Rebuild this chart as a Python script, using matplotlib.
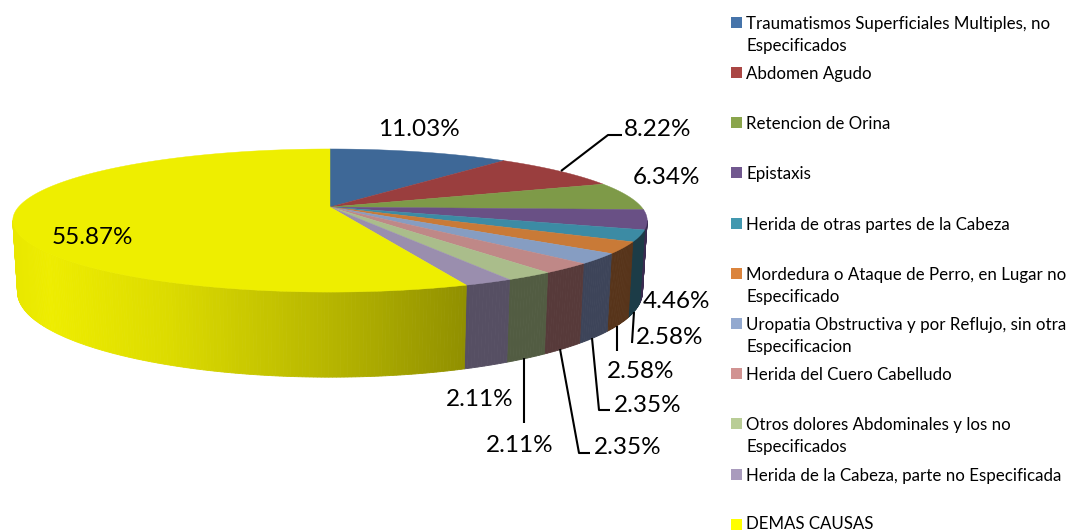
import numpy as np
import matplotlib
matplotlib.use("Agg")
import matplotlib.pyplot as plt
from matplotlib.patches import Polygon, Rectangle

categories = [
    "Traumatismos Superficiales Multiples, no\nEspecificados",
    "Abdomen Agudo",
    "Retencion de Orina",
    "Epistaxis",
    "Herida de otras partes de la Cabeza",
    "Mordedura o Ataque de Perro, en Lugar no\nEspecificado",
    "Uropatia Obstructiva y por Reflujo, sin otra\nEspecificacion",
    "Herida del Cuero Cabelludo",
    "Otros dolores Abdominales y los no\nEspecificados",
    "Herida de la Cabeza, parte no Especificada",
    "DEMAS CAUSAS",
]
values = [11.03, 8.22, 6.34, 4.46, 2.58, 2.58, 2.35, 2.35, 2.11, 2.11, 55.87]
labels = ["11.03%", "8.22%", "6.34%", "4.46%", "2.58%", "2.58%", "2.35%", "2.35%", "2.11%", "2.11%", "55.87%"]
top_colors = ["#3e6897", "#9a3e3e", "#7e9a48", "#695085", "#3c8ba4", "#c97a37",
              "#869dc2", "#bf8887", "#aabd8b", "#9a8eae", "#eeee00"]
side_colors = ["#2c4a6b", "#6e2c2c", "#5a6e33", "#3a2b50", "#1c3c47", "#57341a",
               "#3d4459", "#573a3a", "#525c42", "#564f63", None]
legend_colors = ["#4674aa", "#aa4644", "#8aa54c", "#71588f", "#4298af", "#db843d",
                 "#93a9cf", "#d19392", "#b9cd96", "#a99bbd", "#ffff00"]
legend_y = [22.5, 72.5, 122.5, 172.5, 223.5, 273.5, 323.5, 373.5, 423.5, 474.5, 524.5]
legend_text_y = [22.5, 72.5, 122.5, 172.5, 223.5, 273.5, 323.5, 373.5, 423.5, 474.5, 522.5]
label_pos = [(419, 130), (658, 129), (666, 178), (676, 301), (670, 338), (641, 372),
             (648, 406), (628, 448), (520, 445), (480, 400), (92, 237)]
leaders = [
    [(561, 171), (608, 135), (622, 135)],
    [(634, 312), (632, 343)],
    [(617, 326), (617, 351)],
    [(592, 338), (599, 410), (610, 410)],
    [(560, 349), (579, 453), (590, 453)],
    [(524, 358), (524, 423)],
]

CX, CY, A, B, K, H = 330.0, 207.0, 311.5, 69.0, 0.189, 69.0


def top_rim(t):
    s, c = np.sin(t), np.cos(t)
    w = 1 + K * c
    return CX + A * s / w, CY - B * c / w


def bottom_rim(t):
    s, c = np.sin(t), np.cos(t)
    w = 1 + K * c
    return CX + 0.985 * A * s / w, CY - B * c / w + H / w


def yellow_side(x):
    r = np.interp(x, [12, 50, 170, 340, 463], [232, 238, 220, 180, 145])
    return (r / 255, r / 255 * 0.995, 0)


fig = plt.figure(figsize=(10.72, 5.31), dpi=100)
ax = fig.add_axes([0, 0, 1, 1])
ax.set_xlim(0, 1072)
ax.set_ylim(531, 0)
ax.axis("off")

edges = np.concatenate([[0], np.cumsum(values)]) / np.sum(values) * 2 * np.pi

# Side wall: only the part facing the viewer (right extreme round to left extreme)
VIS_START, VIS_END = np.pi / 2 + 0.19, 3 * np.pi / 2 - 0.19
for i in range(len(values)):
    a0, a1 = max(edges[i], VIS_START), min(edges[i + 1], VIS_END)
    if a1 <= a0:
        continue
    n = max(2, int((a1 - a0) / 0.01))
    ts = np.linspace(a0, a1, n + 1)
    for t0, t1 in zip(ts[:-1], ts[1:]):
        tt = np.linspace(t0, t1, 3)
        xt, yt = top_rim(tt)
        xb, yb = bottom_rim(tt)
        pts = np.column_stack([np.r_[xt, xb[::-1]], np.r_[yt, yb[::-1]]])
        col = side_colors[i] or yellow_side(pts[:, 0].mean())
        ax.add_patch(Polygon(pts, closed=True, fc=col, ec=col, lw=0.6, zorder=2))

# Top face
for i in range(len(values)):
    tt = np.linspace(edges[i], edges[i + 1], 200)
    x, y = top_rim(tt)
    pts = np.column_stack([np.r_[CX, x], np.r_[CY, y]])
    ax.add_patch(Polygon(pts, closed=True, fc=top_colors[i], ec=top_colors[i], lw=0.3, zorder=3))

for path in leaders:
    xs, ys = zip(*path)
    ax.plot(xs, ys, color="black", lw=1.5, zorder=4, solid_capstyle="butt")

for text, (x, y) in zip(labels, label_pos):
    ax.text(x, y, text, ha="center", va="center", fontsize=17.5, family="Lato", color="black", zorder=5)

for name, color, y, ty in zip(categories, legend_colors, legend_y, legend_text_y):
    ax.add_patch(Rectangle((731, y - 5.5), 11, 11, fc=color, ec="none", zorder=5))
    ax.text(746, ty - 6.8, name, ha="left", va="top", fontsize=12.2, family="Lato",
            color="black", linespacing=1.52, zorder=5)

fig.savefig("out.png", dpi=100)
